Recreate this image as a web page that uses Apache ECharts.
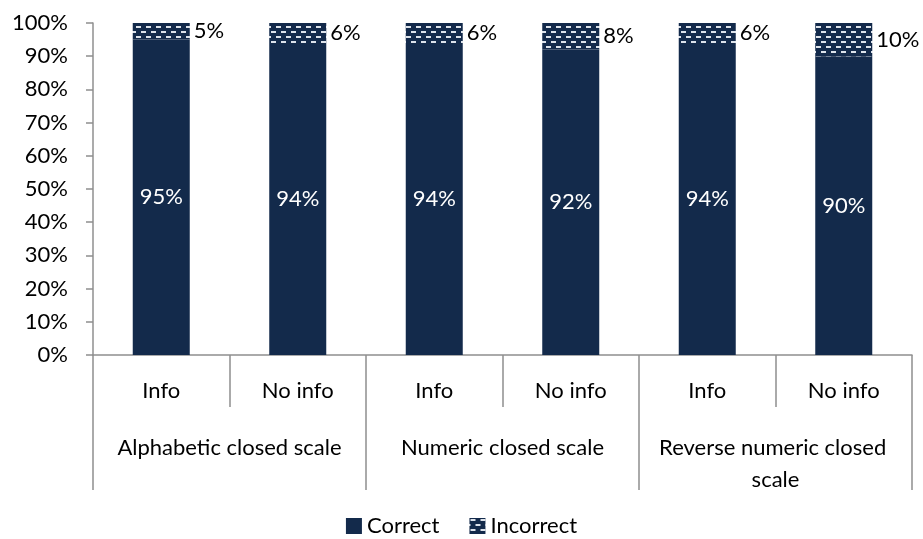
<!DOCTYPE html>
<html>
<head>
<meta charset="utf-8">
<script src="https://cdn.jsdelivr.net/npm/echarts@6/dist/echarts.min.js"></script>
<style>
  html, body { margin: 0; padding: 0; background: #fff; }
  #chart { width: 923px; height: 539px; }
</style>
</head>
<body>
<div id="chart"></div>
<script>
// Answer accuracy per condition, grouped by scale type
const conditions = ['Info', 'No info', 'Info', 'No info', 'Info', 'No info'];
const scaleTypes = ['Alphabetic closed scale', 'Numeric closed scale', 'Reverse numeric closed scale'];
const correctPct = [95, 94, 94, 92, 94, 90];
const incorrectPct = [5, 6, 6, 8, 6, 10];

const NAVY = '#132a4b';
const AXIS_GREY = '#8f8f8f';
const FONT = 'Lato';
const FONT_SIZE = 22;

// Brick-style dash fill for the "Incorrect" segment
function dashTile() {
  const c = document.createElement('canvas');
  c.width = 10; c.height = 10;
  const g = c.getContext('2d');
  g.fillStyle = NAVY;
  g.fillRect(0, 0, 10, 10);
  g.fillStyle = '#dde3eb';
  g.fillRect(1, 1, 5, 2);
  g.fillRect(6, 6, 4, 2);
  g.fillRect(0, 6, 1, 2);
  return c;
}

const chart = echarts.init(document.getElementById('chart'), null, { renderer: 'canvas' });

const textBase = { fontFamily: FONT, fontSize: FONT_SIZE, color: '#000' };

chart.setOption({
  animation: false,
  backgroundColor: '#fff',
  grid: { left: 93, right: 11, top: 23, bottom: 184, containLabel: false },
  legend: {
    top: 510,
    left: 'center',
    itemWidth: 16,
    itemHeight: 16,
    itemGap: 30,
    icon: 'rect',
    textStyle: Object.assign({}, textBase, { padding: [0, 0, 0, 0] }),
    data: ['Correct', 'Incorrect']
  },
  xAxis: [
    {
      type: 'category',
      data: conditions,
      position: 'bottom',
      offset: 0,
      axisLine: { show: true, lineStyle: { color: AXIS_GREY, width: 1.5 } },
      axisTick: { show: true, interval: 0, length: 52, lineStyle: { color: AXIS_GREY, width: 1.5 } },
      axisLabel: Object.assign({}, textBase, { interval: 0, margin: 25 })
    },
    {
      type: 'category',
      data: scaleTypes,
      position: 'bottom',
      offset: 0,
      axisLine: { show: false },
      axisTick: { show: true, interval: 0, length: 135, lineStyle: { color: AXIS_GREY, width: 1.5 } },
      axisLabel: Object.assign({}, textBase, {
        interval: 0, margin: 77, width: 262, overflow: 'break', lineHeight: 32
      })
    }
  ],
  yAxis: {
    type: 'value',
    min: 0,
    max: 100,
    interval: 10,
    splitLine: { show: false },
    axisLine: { show: true, lineStyle: { color: AXIS_GREY, width: 1.5 } },
    axisTick: { show: true, length: 7, lineStyle: { color: AXIS_GREY, width: 1.5 } },
    axisLabel: Object.assign({}, textBase, { margin: 25, formatter: '{value}%' })
  },
  series: [
    {
      name: 'Correct',
      type: 'bar',
      stack: 'total',
      xAxisIndex: 0,
      barWidth: 57,
      data: correctPct,
      itemStyle: { color: NAVY },
      label: {
        show: true,
        position: 'inside',
        formatter: '{c}%',
        fontFamily: FONT,
        fontSize: FONT_SIZE,
        color: '#fff'
      }
    },
    {
      name: 'Incorrect',
      type: 'bar',
      stack: 'total',
      xAxisIndex: 0,
      barWidth: 57,
      data: incorrectPct,
      itemStyle: { color: { image: dashTile(), repeat: 'repeat' } },
      label: {
        show: true,
        position: 'right',
        distance: 4,
        formatter: '{c}%',
        fontFamily: FONT,
        fontSize: FONT_SIZE,
        color: '#000'
      }
    }
  ]
});
</script>
</body>
</html>
